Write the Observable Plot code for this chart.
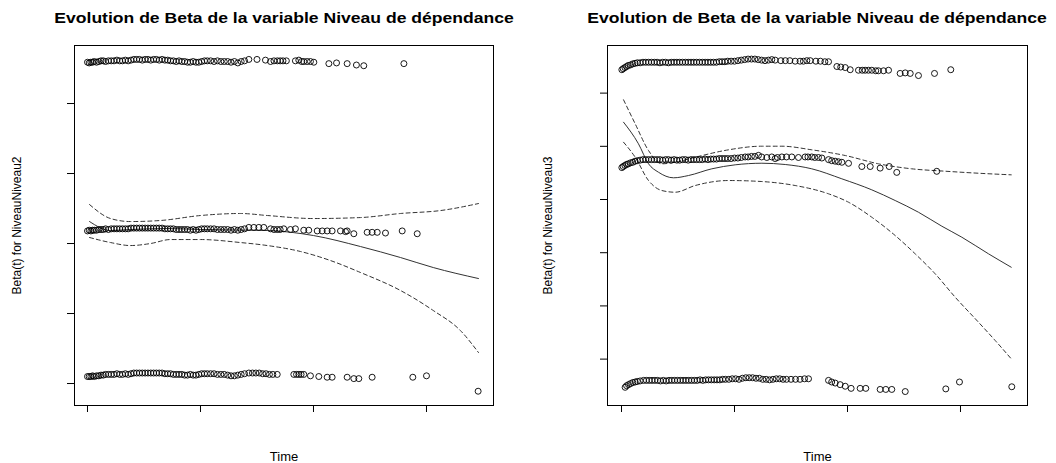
<!DOCTYPE html>
<html><head><meta charset="utf-8">
<script src="https://cdn.jsdelivr.net/npm/d3@7"></script>
<script src="https://cdn.jsdelivr.net/npm/@observablehq/plot@0.6"></script>
<style>
body{margin:0;background:#fff;}
#wrap{position:relative;width:1056px;height:463px;overflow:hidden;font-family:"Liberation Sans",Arial,Helvetica,sans-serif;background:#fff;}
.panel{position:absolute;top:0;width:528px;height:463px;}
.title{position:relative;height:30px;}
.title span{position:absolute;top:10px;line-height:15px;font-size:15px;font-weight:bold;white-space:nowrap;transform:translateX(-50%) scaleX(1.17);color:#000;}
svg{display:block;}
</style></head>
<body><div id="wrap"></div>
<script>
const timeTicks = [0, 100, 200, 300];
const niv2Ticks = [-2, -1, 0, 1, 2];
const niv3Ticks = [-3, -2, -1, 0, 1, 2];
const niv2TimeDomain = [-11.5, 359.3];
const niv3TimeDomain = [-12.4, 359.3];
const niv2BetaDomain = [-2.314, 2.829];
const niv3BetaDomain = [-3.872, 2.895];
const titles = ["Evolution de Beta de la variable Niveau de dépendance", "Evolution de Beta de la variable Niveau de dépendance"];
const yLabels = ["Beta(t) for NiveauNiveau2", "Beta(t) for NiveauNiveau3"];
const xLabel = "Time";

// Niveau2: scaled Schoenfeld residuals (time, beta)
const niv2Top = [[0,2.59],[1.5,2.58],[3,2.59],[4.5,2.59],[6,2.6],[8,2.59],[10,2.6],[12,2.61],[14,2.61],[16,2.6],[18.5,2.61],[21,2.61],[23.5,2.61],[26,2.62],[28.5,2.61],[31,2.61],[33.5,2.62],[36,2.61],[38.5,2.62],[41,2.63],[43.5,2.63],[46,2.63],[48.5,2.62],[51,2.63],[53.5,2.63],[56,2.62],[58.5,2.63],[61,2.63],[63.5,2.62],[66,2.63],[68.5,2.62],[71,2.62],[73.5,2.61],[76,2.61],[78.5,2.6],[81,2.61],[83.5,2.6],[86,2.6],[88.5,2.59],[91,2.59],[93.5,2.6],[96,2.59],[98.5,2.59],[101,2.6],[103.5,2.61],[106,2.61],[109,2.61],[112,2.6],[115,2.61],[118,2.6],[121,2.6],[124,2.6],[127,2.59],[130,2.6],[133,2.58],[136,2.6],[139,2.61],[142.8,2.63],[150,2.63],[157.5,2.62],[162,2.6],[165,2.61],[168,2.61],[170.5,2.61],[173,2.61],[176,2.61],[184,2.61],[187,2.62],[189.5,2.6],[191.4,2.6],[194.4,2.6],[197.3,2.6],[200.3,2.59],[213.6,2.57],[220.4,2.58],[229.8,2.57],[238,2.55],[244.5,2.54],[280,2.57]];
const niv2Mid = [[0,0.18],[1.5,0.19],[3,0.18],[4.5,0.19],[6,0.19],[8,0.19],[10,0.2],[12,0.2],[14,0.2],[16,0.21],[18.5,0.2],[21,0.21],[23.5,0.21],[26,0.21],[28.5,0.21],[31,0.21],[33.5,0.21],[36,0.21],[38.5,0.22],[41,0.22],[43.5,0.22],[46,0.22],[48.5,0.22],[51,0.22],[53.5,0.22],[56,0.22],[58.5,0.22],[61,0.22],[63.5,0.22],[66,0.22],[68.5,0.21],[71,0.21],[73.5,0.21],[76,0.21],[78.5,0.2],[81,0.2],[83.5,0.2],[86,0.2],[88.5,0.2],[91,0.19],[93.5,0.2],[96,0.19],[98.5,0.2],[101,0.21],[103.5,0.21],[106,0.21],[109,0.21],[112,0.21],[115,0.2],[118,0.2],[121,0.2],[124,0.2],[127,0.19],[130,0.2],[133,0.19],[136,0.2],[139,0.21],[142.8,0.23],[147.2,0.23],[151.6,0.23],[156,0.23],[162,0.21],[165,0.2],[167.9,0.2],[170.5,0.2],[173.7,0.21],[179.6,0.2],[184,0.21],[191.4,0.19],[195.8,0.19],[203.3,0.18],[207.7,0.18],[212.1,0.18],[216.5,0.18],[223.9,0.18],[228.3,0.17],[229.8,0.18],[235.7,0.14],[247.5,0.16],[251.9,0.16],[256.4,0.16],[263.7,0.15],[278.5,0.18],[291.8,0.14]];
const niv2Bot = [[0,-1.9],[1.5,-1.9],[3,-1.9],[4.5,-1.89],[6,-1.9],[8,-1.89],[10,-1.89],[12,-1.88],[14,-1.88],[16,-1.87],[18.5,-1.87],[21,-1.87],[23.5,-1.87],[26,-1.86],[28.5,-1.87],[31,-1.87],[33.5,-1.86],[36,-1.87],[38.5,-1.86],[41,-1.85],[43.5,-1.85],[46,-1.85],[48.5,-1.85],[51,-1.85],[53.5,-1.85],[56,-1.85],[58.5,-1.85],[61,-1.85],[63.5,-1.85],[66,-1.85],[68.5,-1.86],[71,-1.86],[73.5,-1.86],[76,-1.87],[78.5,-1.87],[81,-1.87],[83.5,-1.87],[86,-1.88],[88.5,-1.88],[91,-1.87],[93.5,-1.88],[96,-1.88],[98.5,-1.87],[101,-1.86],[103.5,-1.86],[106,-1.86],[109,-1.86],[112,-1.86],[115,-1.87],[118,-1.87],[121,-1.87],[124,-1.88],[127,-1.89],[130,-1.89],[133,-1.88],[136,-1.87],[139,-1.86],[142.8,-1.85],[146,-1.85],[149,-1.85],[152,-1.85],[155,-1.86],[158,-1.86],[161,-1.87],[164,-1.87],[167.9,-1.87],[182.6,-1.87],[185,-1.87],[187,-1.87],[189,-1.87],[191.4,-1.87],[197.3,-1.89],[204.7,-1.9],[212.1,-1.91],[216.5,-1.91],[229.8,-1.91],[235.7,-1.93],[240.1,-1.93],[251.9,-1.91],[287.9,-1.91],[300,-1.89],[345.7,-2.11]];
const niv2Fit = [[1.8,0.314],[20.4,0.186],[38,0.2],[70.8,0.214],[100,0.2],[159.3,0.186],[200,0.114],[241.6,-0.043],[277,-0.2],[306,-0.343],[346,-0.5]];
const niv2Upper = [[1.8,0.557],[20.4,0.357],[38,0.314],[64.6,0.329],[100,0.4],[135.4,0.429],[159.3,0.4],[200,0.357],[241.6,0.371],[277,0.429],[312.4,0.471],[346,0.571]];
const niv2Lower = [[1.8,0.086],[20.4,0.014],[38,-0.029],[55.8,0],[73.5,0.057],[100,0.057],[135.4,0.014],[159.3,-0.029],[188.5,-0.114],[215,-0.243],[241.6,-0.414],[277,-0.671],[306,-0.957],[330,-1.243],[346,-1.557]];

// Niveau3
const niv3Top = [[0.3,2.44],[1.5,2.46],[3,2.48],[4.5,2.5],[6,2.52],[8,2.53],[10,2.55],[12,2.56],[14,2.57],[16.5,2.57],[19,2.58],[21.5,2.58],[24,2.58],[26.5,2.58],[29,2.58],[31.5,2.58],[34,2.57],[36.5,2.58],[39,2.58],[41.5,2.57],[44,2.58],[46.5,2.58],[49,2.58],[51.5,2.58],[54,2.58],[56.5,2.58],[59,2.58],[61.5,2.58],[64,2.58],[66.5,2.58],[69,2.58],[71.5,2.58],[74,2.58],[76.5,2.58],[79,2.58],[81.5,2.58],[84,2.58],[86.5,2.59],[89,2.59],[91.5,2.59],[94,2.6],[97,2.6],[100,2.6],[103,2.61],[106,2.62],[109,2.63],[112,2.64],[115,2.64],[118,2.64],[121,2.63],[124,2.62],[127,2.61],[130,2.62],[133,2.63],[136,2.62],[141,2.61],[145,2.61],[149,2.61],[153.7,2.6],[158,2.6],[161,2.6],[164,2.61],[167,2.61],[172,2.6],[176,2.6],[180,2.59],[183.2,2.59],[190.6,2.5],[194,2.49],[198,2.48],[202.4,2.44],[209.7,2.43],[213,2.43],[215.6,2.43],[218.5,2.43],[221.5,2.43],[225,2.42],[227.4,2.42],[231.9,2.42],[236.3,2.43],[246.6,2.37],[251.1,2.38],[255.5,2.37],[262.8,2.33],[277,2.37],[291.4,2.44]];
const niv3Mid = [[0.3,0.6],[1.5,0.62],[3,0.64],[4.5,0.66],[6,0.67],[8,0.69],[10,0.7],[12,0.72],[14,0.73],[16.5,0.74],[19,0.75],[21.5,0.75],[24,0.75],[26.5,0.75],[29,0.75],[31.5,0.75],[34,0.75],[36.5,0.74],[39,0.75],[41.5,0.75],[44,0.74],[46.5,0.75],[49,0.74],[51.5,0.74],[54,0.75],[56.5,0.75],[59,0.74],[61.5,0.75],[64,0.75],[66.5,0.75],[69,0.75],[71.5,0.75],[74,0.76],[76.5,0.75],[79,0.76],[81.5,0.76],[84,0.76],[86.5,0.77],[89,0.77],[91.5,0.77],[94,0.77],[97,0.77],[100,0.78],[103,0.78],[106,0.79],[109.4,0.8],[112,0.8],[115,0.81],[118,0.81],[121.2,0.83],[124,0.8],[128.6,0.79],[133,0.8],[136,0.77],[138,0.79],[141.9,0.8],[146,0.8],[150.7,0.8],[156.6,0.79],[162.5,0.8],[165,0.8],[168.4,0.8],[171,0.79],[174.3,0.79],[177.3,0.78],[183.2,0.75],[186,0.73],[189.1,0.72],[192,0.71],[195,0.7],[200.9,0.68],[212.7,0.62],[220.1,0.62],[228.9,0.59],[236.9,0.62],[243.6,0.51],[279,0.53]];
const niv3Bot = [[3.2,-3.53],[4.5,-3.5],[6.2,-3.48],[8,-3.46],[10,-3.44],[12.1,-3.43],[14,-3.42],[16.5,-3.41],[19.5,-3.4],[22,-3.4],[24.5,-3.4],[27,-3.4],[29.5,-3.4],[32,-3.4],[34.5,-3.41],[37,-3.4],[39.5,-3.41],[42,-3.4],[44.5,-3.4],[47,-3.4],[49.5,-3.4],[52,-3.4],[54.5,-3.4],[57,-3.4],[59.5,-3.4],[62,-3.4],[64.5,-3.4],[67,-3.4],[69.5,-3.39],[72,-3.4],[74.5,-3.39],[77,-3.39],[79.5,-3.39],[82,-3.39],[84.5,-3.39],[87,-3.39],[89.5,-3.38],[92,-3.38],[95,-3.38],[98,-3.37],[101,-3.37],[104,-3.38],[107,-3.36],[110,-3.35],[113,-3.35],[116,-3.35],[119,-3.36],[122,-3.36],[125,-3.38],[128,-3.38],[131,-3.39],[134,-3.38],[137,-3.37],[140,-3.37],[143,-3.38],[146,-3.38],[150,-3.38],[154,-3.38],[158,-3.38],[162,-3.37],[165.5,-3.37],[183.2,-3.4],[186,-3.43],[189.1,-3.45],[193.5,-3.48],[198,-3.51],[203.2,-3.55],[211.2,-3.55],[216.2,-3.55],[228.9,-3.57],[233.9,-3.57],[239.2,-3.57],[251.1,-3.61],[287,-3.56],[299.1,-3.43],[345.4,-3.52]];
const niv3Fit = [[1.8,1.453],[15,1.047],[23.9,0.671],[32.7,0.513],[46,0.408],[59.3,0.451],[79.9,0.577],[100.6,0.652],[124.2,0.682],[144.9,0.658],[168.4,0.577],[195,0.389],[221.5,0.182],[242.2,-0.019],[262.8,-0.239],[283.5,-0.502],[301.2,-0.709],[324.8,-1.021],[344.9,-1.273]];
const niv3Upper = [[1.8,1.874],[12.1,1.423],[23.9,0.921],[35.7,0.671],[47.5,0.701],[65.2,0.795],[94.7,0.934],[124.2,1.002],[141.9,1.002],[168.4,0.934],[198,0.827],[227.4,0.671],[256.9,0.577],[286.5,0.532],[315.9,0.494],[344.9,0.464]];
const niv3Lower = [[1.8,1.077],[12.1,0.795],[23.9,0.357],[35.7,0.169],[47.5,0.137],[65.2,0.263],[94.7,0.357],[124.2,0.338],[153.7,0.263],[183.2,0.107],[200.9,-0.051],[221.5,-0.333],[242.2,-0.677],[259.9,-1.021],[277.6,-1.397],[295.3,-1.836],[315.9,-2.306],[330.7,-2.65],[344.9,-2.994]];

const panels = [
  {left: 0, ml: 74, mr: 35, xd: niv2TimeDomain, yd: niv2BetaDomain, yt: niv2Ticks, ylo: 62,
   resid: [niv2Top, niv2Mid, niv2Bot], fit: niv2Fit, up: niv2Upper, lo: niv2Lower, title: titles[0], yl: yLabels[0]},
  {left: 528, ml: 79, mr: 29, xd: niv3TimeDomain, yd: niv3BetaDomain, yt: niv3Ticks, ylo: 64,
   resid: [niv3Top, niv3Mid, niv3Bot], fit: niv3Fit, up: niv3Upper, lo: niv3Lower, title: titles[1], yl: yLabels[1]}
];

const wrap = document.getElementById("wrap");
const X = d => d[0], Y = d => d[1];
for (const p of panels) {
  const div = document.createElement("div");
  div.className = "panel";
  div.style.left = p.left + "px";
  const t = document.createElement("div");
  t.className = "title";
  const s = document.createElement("span");
  s.textContent = p.title;
  s.style.left = ((p.ml + (528 - p.mr)) / 2) + "px";
  t.appendChild(s);
  div.appendChild(t);
  const pts = [].concat(...p.resid);
  const chart = Plot.plot({
    width: 528, height: 433,
    marginTop: 15, marginBottom: 58, marginLeft: p.ml, marginRight: p.mr,
    style: {fontFamily: "'Liberation Sans', Arial, Helvetica, sans-serif", fontSize: "12px", color: "#000", background: "#fff", overflow: "visible"},
    x: {domain: p.xd},
    y: {domain: p.yd},
    marks: [
      Plot.frame({stroke: "#000", strokeWidth: 1}),
      Plot.axisX(timeTicks, {tickSize: 7, tickFormat: () => "", label: xLabel, labelAnchor: "center", labelOffset: 55, labelArrow: "none", fontSize: 13, stroke: "#000"}),
      Plot.axisY(p.yt, {tickSize: 7, tickFormat: () => "", label: p.yl, labelAnchor: "center", labelOffset: p.ylo, labelArrow: "none", fontSize: 12, stroke: "#000"}),
      Plot.line(p.up, {x: X, y: Y, curve: "monotone-x", stroke: "#333", strokeWidth: 1, strokeDasharray: "4,3"}),
      Plot.line(p.lo, {x: X, y: Y, curve: "monotone-x", stroke: "#333", strokeWidth: 1, strokeDasharray: "4,3"}),
      Plot.line(p.fit, {x: X, y: Y, curve: "monotone-x", stroke: "#333", strokeWidth: 1}),
      Plot.dot(pts, {x: X, y: Y, r: 3, stroke: "#000", strokeWidth: 0.9, fill: "none"})
    ]
  });
  div.appendChild(chart);
  wrap.appendChild(div);
}
</script></body></html>
